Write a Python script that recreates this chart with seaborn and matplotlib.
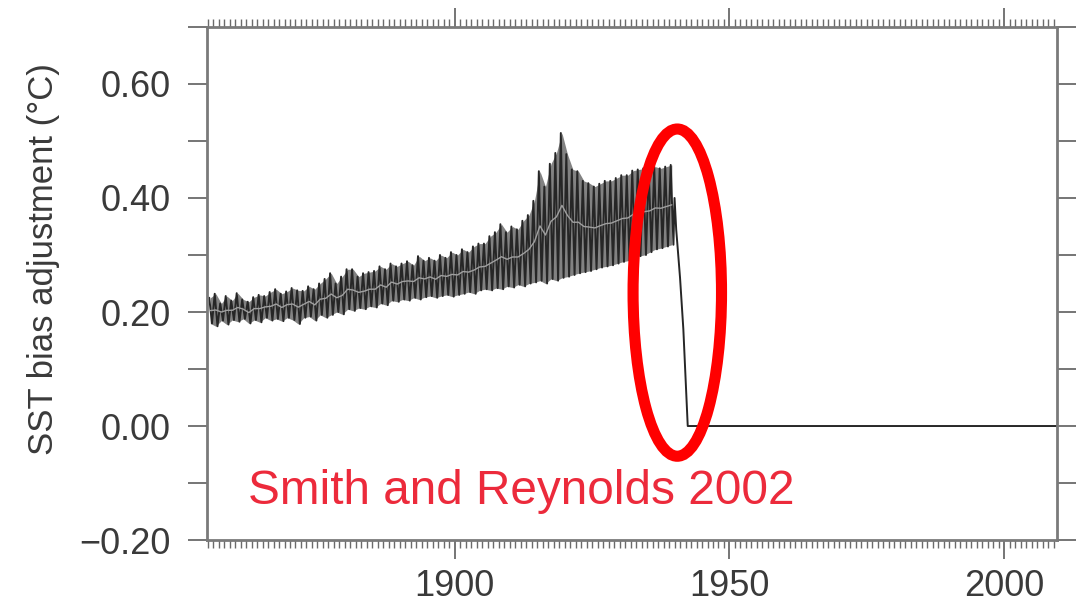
import numpy as np
import pandas as pd
import matplotlib
matplotlib.use("Agg")
import matplotlib.pyplot as plt
from matplotlib.patches import Ellipse
from matplotlib.ticker import MultipleLocator, FixedLocator
import seaborn as sns

# Annual envelope of the monthly SST bias adjustment (deg C), 1855-1939
years = list(range(1855, 1940))
upper = [0.225, 0.232, 0.215, 0.228, 0.220, 0.233, 0.222, 0.218, 0.226, 0.230,
         0.228, 0.235, 0.240, 0.232, 0.236, 0.242, 0.238, 0.237, 0.245, 0.240,
         0.250, 0.258, 0.268, 0.250, 0.262, 0.275, 0.275, 0.262, 0.268, 0.270,
         0.272, 0.280, 0.275, 0.285, 0.280, 0.285, 0.289, 0.282, 0.298, 0.290,
         0.295, 0.290, 0.300, 0.295, 0.305, 0.300, 0.310, 0.305, 0.315, 0.320,
         0.320, 0.333, 0.340, 0.354, 0.340, 0.350, 0.345, 0.360, 0.370, 0.395,
         0.447, 0.420, 0.460, 0.479, 0.514, 0.477, 0.450, 0.447, 0.430, 0.426,
         0.420, 0.425, 0.430, 0.430, 0.435, 0.440, 0.440, 0.448, 0.450, 0.452,
         0.450, 0.455, 0.452, 0.455, 0.458]
lower = [0.180, 0.175, 0.185, 0.178, 0.186, 0.183, 0.188, 0.180, 0.186, 0.182,
         0.190, 0.185, 0.188, 0.184, 0.190, 0.186, 0.179, 0.190, 0.192, 0.185,
         0.195, 0.190, 0.195, 0.200, 0.196, 0.205, 0.202, 0.207, 0.205, 0.210,
         0.208, 0.215, 0.212, 0.220, 0.218, 0.222, 0.220, 0.225, 0.222, 0.226,
         0.228, 0.225, 0.228, 0.230, 0.227, 0.230, 0.232, 0.235, 0.232, 0.238,
         0.240, 0.238, 0.242, 0.240, 0.245, 0.243, 0.248, 0.245, 0.250, 0.252,
         0.255, 0.250, 0.258, 0.255, 0.260, 0.262, 0.265, 0.268, 0.270, 0.272,
         0.275, 0.278, 0.280, 0.282, 0.285, 0.288, 0.290, 0.295, 0.298, 0.300,
         0.305, 0.310, 0.312, 0.315, 0.318]

# Wartime ramp-down of the adjustment, then zero to the present
ramp_time = [1940.0, 1940.3, 1941.0, 1941.6, 1942.4]
ramp_value = [0.400, 0.345, 0.260, 0.170, 0.000]
flat_time = [1942.4, 2009.6]
flat_value = [0.0, 0.0]

x_ticks = [1900, 1950, 2000]
y_ticks = [-0.2, 0.0, 0.2, 0.4, 0.6]
y_labels = ["\u22120.20", "0.00", "0.20", "0.40", "0.60"]

# Seasonal zig-zag: annual high early in the year, low later on
t, v = [], []
for yr, hi, lo in zip(years, upper, lower):
    t += [yr + 0.3, yr + 0.8]
    v += [hi, lo]
t += ramp_time + flat_time
v += ramp_value + flat_value
series = pd.DataFrame({"year": t, "adj": v})

band = pd.DataFrame({"year": [yr + 0.5 for yr in years],
                     "hi": upper, "lo": lower})
band["mid"] = (band["hi"] + band["lo"]) / 2

sns.set_theme(style="ticks")
plt.rcParams["font.family"] = ["Liberation Sans", "DejaVu Sans"]

fig = plt.figure(figsize=(10.84, 6.05), dpi=100)
ax = fig.add_axes([0.191, 0.1074, 0.784, 0.848])

# shaded seasonal range, the monthly trace and the annual-mean line
ax.fill_between(band["year"], band["lo"], band["hi"], color="#828282",
                linewidth=0, zorder=1)
sns.lineplot(data=series, x="year", y="adj", ax=ax, sort=False, estimator=None,
             color="#262626", linewidth=1.4, zorder=2)
sns.lineplot(data=band, x="year", y="mid", ax=ax, sort=False, estimator=None,
             color="#a0a0a0", linewidth=1.0, zorder=3)

ax.set_xlim(1854.9, 2009.6)
ax.set_ylim(-0.2, 0.7)

ax.xaxis.set_major_locator(FixedLocator(x_ticks))
ax.xaxis.set_minor_locator(MultipleLocator(1))
ax.yaxis.set_major_locator(FixedLocator(y_ticks))
ax.yaxis.set_minor_locator(FixedLocator([-0.1, 0.1, 0.3, 0.5, 0.7]))
ax.set_yticklabels(y_labels)

ax.tick_params(axis="both", which="both", direction="out", top=True, right=True,
               color="#6a6a6a", width=1.3)
ax.tick_params(axis="x", which="major", length=14, pad=7, labelsize=26,
               labelcolor="#3a3a3a")
ax.tick_params(axis="x", which="minor", length=5.5, width=1.0)
ax.tick_params(axis="y", which="both", length=14, pad=12, labelsize=26,
               labelcolor="#3a3a3a")

for side in ["left", "right", "top", "bottom"]:
    ax.spines[side].set_color("#7a7a7a")
    ax.spines[side].set_linewidth(2.0)

ax.set_xlabel("")
ax.set_ylabel("SST bias adjustment (\u00b0C)", fontsize=25, color="#3a3a3a")
ax.yaxis.set_label_coords(-0.173, 0.548)

ax.add_patch(Ellipse((1940.5, 0.234), width=16.1, height=0.574, fill=False,
                     edgecolor="#ff0000", linewidth=8.0, zorder=5))
ax.text(1862.4, -0.137, "Smith and Reynolds 2002", color="#ec2a3b",
        fontsize=34.4, ha="left", va="baseline")

fig.savefig("out.png", dpi=100, facecolor="white")
